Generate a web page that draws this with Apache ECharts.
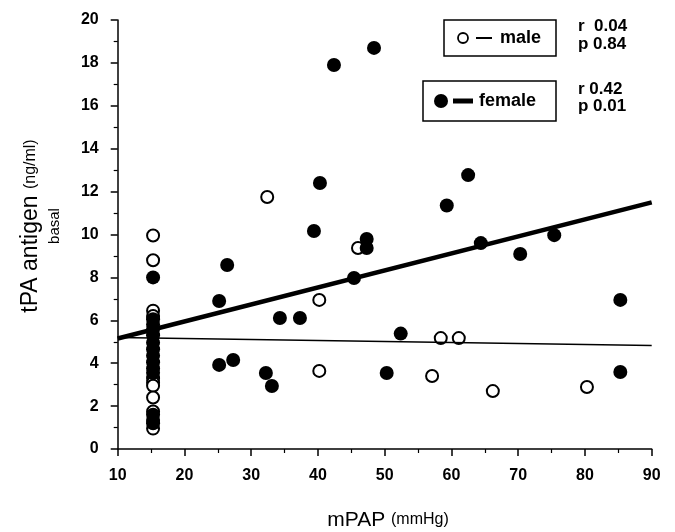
<!DOCTYPE html>
<html>
<head>
<meta charset="utf-8">
<script src="https://cdn.jsdelivr.net/npm/echarts@6/dist/echarts.min.js"></script>
<style>
html,body{margin:0;padding:0;background:#fff;}
#chart{width:675px;height:532px;}
</style>
</head>
<body>
<div id="chart"></div>
<script>
// ---- data ----
var xTicks = [10, 20, 30, 40, 50, 60, 70, 80, 90];
var yTicks = [0, 2, 4, 6, 8, 10, 12, 14, 16, 18, 20];

// male (open circles)
var maleMPAP = [15.3, 15.3, 15.3, 15.3, 15.3, 15.3, 15.3, 15.3, 15.3, 15.3, 15.3,
                32.4, 40.2, 40.2, 46.0, 57.1, 58.4, 61.1, 66.2, 80.3];
var maleTPA  = [9.95, 8.8, 6.45, 6.2, 3.3, 3.1, 2.95, 2.4, 1.75, 1.35, 0.95,
                11.75, 6.95, 3.64, 9.37, 3.4, 5.17, 5.17, 2.7, 2.89];

// female (filled circles)
var femaleMPAP = [15.3, 15.3, 15.3, 15.3, 15.3, 15.3, 15.3, 15.3, 15.3, 15.3, 15.3, 15.3, 15.3,
                  25.2, 25.2, 26.4, 27.3, 32.2, 33.1, 34.3, 37.3, 39.4, 40.3, 42.4, 45.4,
                  47.3, 47.3, 48.4, 50.3, 52.4, 59.3, 62.5, 64.4, 70.3, 75.4, 85.3, 85.3];
var femaleTPA  = [8.0, 6.05, 5.8, 5.6, 5.3, 4.95, 4.65, 4.35, 4.05, 3.75, 3.55, 1.6, 1.2,
                  6.9, 3.92, 8.58, 4.15, 3.54, 2.94, 6.11, 6.11, 10.16, 12.4, 17.9, 7.97,
                  9.79, 9.37, 18.7, 3.54, 5.38, 11.35, 12.77, 9.6, 9.09, 9.97, 6.95, 3.59];

// regression lines (end points)
var fitX = [10, 90];
var maleFitY = [5.2, 4.82];
var femaleFitY = [5.15, 11.5];

var stats = { male: ['r  0.04', 'p 0.84'], female: ['r 0.42', 'p 0.01'] };

function pairs(xs, ys) { return xs.map(function (x, i) { return [x, ys[i]]; }); }

var FONT = '"Liberation Sans", Arial, sans-serif';
var chart = echarts.init(document.getElementById('chart'), null, { renderer: 'canvas' });

var option = {
  backgroundColor: '#fff',
  animation: false,
  grid: { left: 117.7, right: 23.3, top: 20, bottom: 83 },
  xAxis: {
    type: 'value', min: xTicks[0], max: xTicks[xTicks.length - 1], interval: 10,
    axisLine: { lineStyle: { color: '#000', width: 1.5 } },
    axisTick: { length: 7, lineStyle: { color: '#000', width: 1.5 } },
    minorTick: { show: true, splitNumber: 2, length: 4, lineStyle: { color: '#000', width: 1.2 } },
    splitLine: { show: false },
    axisLabel: { color: '#000', fontSize: 16, fontWeight: 'bold', fontFamily: FONT, margin: 19 }
  },
  yAxis: {
    type: 'value', min: yTicks[0], max: yTicks[yTicks.length - 1], interval: 2,
    axisLine: { show: true, lineStyle: { color: '#000', width: 1.5 } },
    axisTick: { show: true, length: 7, lineStyle: { color: '#000', width: 1.5 } },
    minorTick: { show: true, splitNumber: 2, length: 4, lineStyle: { color: '#000', width: 1.2 } },
    splitLine: { show: false },
    axisLabel: { color: '#000', fontSize: 16, fontWeight: 'bold', fontFamily: FONT, margin: 19 }
  },
  series: [
    {
      name: 'male', type: 'scatter', data: pairs(maleMPAP, maleTPA),
      symbol: 'circle', symbolSize: 12,
      itemStyle: { color: '#fff', borderColor: '#000', borderWidth: 2, opacity: 1 },
      z: 2
    },
    {
      name: 'female', type: 'scatter', data: pairs(femaleMPAP, femaleTPA),
      symbol: 'circle', symbolSize: 14,
      itemStyle: { color: '#000', borderColor: '#000', borderWidth: 0, opacity: 1 },
      z: 3
    },
    {
      name: 'male fit', type: 'line', data: pairs(fitX, maleFitY),
      showSymbol: false, lineStyle: { color: '#000', width: 1.5 }, z: 4
    },
    {
      name: 'female fit', type: 'line', data: pairs(fitX, femaleFitY),
      showSymbol: false, lineStyle: { color: '#000', width: 4.5 }, z: 4
    }
  ],
  graphic: [
    // y-axis title
    {
      type: 'text', x: 31, y: 226, rotation: Math.PI / 2,
      style: {
        text: '{a|tPA antigen }{b|(ng/ml)}',
        align: 'center', verticalAlign: 'middle', fill: '#000',
        rich: {
          a: { fontSize: 23, fontFamily: FONT, fill: '#000' },
          b: { fontSize: 16, fontFamily: FONT, fill: '#000' }
        }
      }
    },
    {
      type: 'text', x: 55, y: 226, rotation: Math.PI / 2,
      style: { text: 'basal', fontSize: 15, fontFamily: FONT, fill: '#000', align: 'center', verticalAlign: 'middle' }
    },
    // x-axis title
    {
      type: 'text', x: 388, y: 520,
      style: {
        text: '{a|mPAP }{b|(mmHg)}',
        align: 'center', verticalAlign: 'middle', fill: '#000',
        rich: {
          a: { fontSize: 21, fontFamily: FONT, fill: '#000' },
          b: { fontSize: 16, fontFamily: FONT, fill: '#000' }
        }
      }
    },
    // male legend box
    { type: 'rect', shape: { x: 444, y: 20, width: 112, height: 36 },
      style: { fill: '#fff', stroke: '#000', lineWidth: 1.5 }, z: 10 },
    { type: 'circle', shape: { cx: 463, cy: 38, r: 5 },
      style: { fill: '#fff', stroke: '#000', lineWidth: 1.8 }, z: 11 },
    { type: 'line', shape: { x1: 476, y1: 38, x2: 492, y2: 38 },
      style: { stroke: '#000', lineWidth: 2 }, z: 11 },
    { type: 'text', x: 500, y: 38, z: 11,
      style: { text: 'male', fontSize: 18, fontWeight: 'bold', fontFamily: FONT, fill: '#000', align: 'left', verticalAlign: 'middle' } },
    // female legend box
    { type: 'rect', shape: { x: 423, y: 81, width: 133, height: 40 },
      style: { fill: '#fff', stroke: '#000', lineWidth: 1.5 }, z: 10 },
    { type: 'circle', shape: { cx: 441, cy: 101, r: 7 },
      style: { fill: '#000' }, z: 11 },
    { type: 'line', shape: { x1: 453, y1: 101, x2: 473, y2: 101 },
      style: { stroke: '#000', lineWidth: 5 }, z: 11 },
    { type: 'text', x: 479, y: 101, z: 11,
      style: { text: 'female', fontSize: 18, fontWeight: 'bold', fontFamily: FONT, fill: '#000', align: 'left', verticalAlign: 'middle' } },
    // stats
    { type: 'text', x: 578, y: 26,
      style: { text: stats.male[0], fontSize: 17, fontWeight: 'bold', fontFamily: FONT, fill: '#000', align: 'left', verticalAlign: 'middle' } },
    { type: 'text', x: 578, y: 44,
      style: { text: stats.male[1], fontSize: 17, fontWeight: 'bold', fontFamily: FONT, fill: '#000', align: 'left', verticalAlign: 'middle' } },
    { type: 'text', x: 578, y: 89,
      style: { text: stats.female[0], fontSize: 17, fontWeight: 'bold', fontFamily: FONT, fill: '#000', align: 'left', verticalAlign: 'middle' } },
    { type: 'text', x: 578, y: 106,
      style: { text: stats.female[1], fontSize: 17, fontWeight: 'bold', fontFamily: FONT, fill: '#000', align: 'left', verticalAlign: 'middle' } }
  ]
};
chart.setOption(option);
</script>
</body>
</html>
